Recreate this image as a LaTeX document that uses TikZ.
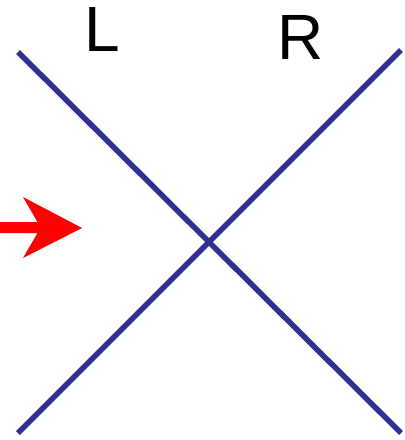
\documentclass[tikz,border=0pt]{standalone}
\usepackage{fontspec}
\setmainfont{Liberation Sans}
\definecolor{lineblue}{HTML}{2E3192}
\begin{document}
\begin{tikzpicture}[x=1pt,y=-1pt,
  wire/.style={draw=lineblue,line width=5.5pt},
  lbl/.style={font=\fontsize{64}{64}\selectfont,inner sep=0pt,anchor=center}]
\useasboundingbox (0,0) rectangle (405,440);
\coordinate (tl) at (18,52);
\coordinate (br) at (401,433);
\coordinate (bl) at (18,433);
\coordinate (tr) at (401,50);
\draw[wire] (tl) -- (br);
\draw[wire] (bl) -- (tr);
\node[lbl] (L) at (102,29) {L};
\node[lbl] (R) at (301,37) {R};
\fill[red] (0,222) -- (37.5,222) -- (23,197) -- (82,228) -- (23,258) -- (37.5,233) -- (0,233) -- cycle;
\end{tikzpicture}
\end{document}
